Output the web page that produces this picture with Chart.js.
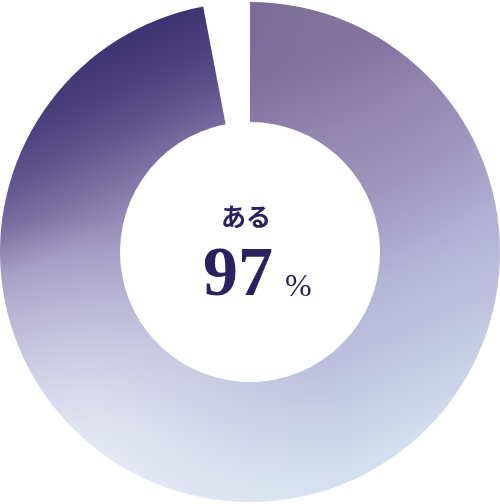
<!DOCTYPE html>
<html lang="ja">
<head>
<meta charset="utf-8">
<script src="https://cdn.jsdelivr.net/npm/chart.js@4"></script>
<style>
  html, body { margin: 0; padding: 0; background: #fff; }
  #wrap { width: 500px; height: 504px; }
</style>
</head>
<body>
<div id="wrap"><canvas id="donut" width="500" height="504"></canvas></div>
<script>
// data
const labels = ["ある", "ない"];
const values = [97, 3];
const unit = "%";

// gradient fill, painted once on an offscreen canvas and used as a pattern
function ringFill(ctx) {
  const c = document.createElement("canvas");
  c.width = 500; c.height = 504;
  const g = c.getContext("2d");

  const lin = g.createLinearGradient(90, 30, 300, 490);
  lin.addColorStop(0, "#3a2f6d");
  lin.addColorStop(0.12, "#4a3e7b");
  lin.addColorStop(0.22, "#64578f");
  lin.addColorStop(0.38, "#9a90bb");
  lin.addColorStop(0.6, "#aeabd1");
  lin.addColorStop(0.8, "#bcc0dd");
  lin.addColorStop(1, "#d3deee");
  g.fillStyle = lin;
  g.fillRect(0, 0, 500, 504);

  // greyish mauve on the upper right, only right of the gap
  g.save();
  g.beginPath();
  g.rect(240, 0, 260, 504);
  g.clip();
  const tr = g.createRadialGradient(310, 10, 0, 310, 10, 280);
  tr.addColorStop(0, "rgba(136,120,158,0.9)");
  tr.addColorStop(0.6, "rgba(145,130,168,0.45)");
  tr.addColorStop(1, "rgba(150,135,172,0)");
  g.fillStyle = tr;
  g.fillRect(0, 0, 500, 504);
  g.restore();

  // pale glow on the lower left
  const bl = g.createRadialGradient(70, 500, 0, 70, 500, 280);
  bl.addColorStop(0, "rgba(242,246,253,0.95)");
  bl.addColorStop(1, "rgba(242,246,253,0)");
  g.fillStyle = bl;
  g.fillRect(0, 0, 500, 504);

  return ctx.createPattern(c, "no-repeat");
}

const centerText = {
  id: "centerText",
  afterDraw(chart) {
    const { ctx } = chart;
    const meta = chart.getDatasetMeta(0).data[0];
    const x = meta.x, y = meta.y;
    ctx.save();
    ctx.fillStyle = "#2b2160";
    ctx.textAlign = "center";
    ctx.textBaseline = "alphabetic";
    ctx.font = "bold 25px 'Noto Sans CJK JP'";
    ctx.fillText(labels[0], x - 4, y - 26);
    ctx.font = "bold 70px 'Liberation Serif'";
    ctx.fillText(String(values[0]), x - 12, y + 43);
    ctx.font = "32px 'Liberation Serif'";
    ctx.textAlign = "left";
    ctx.fillText(unit, x + 35, y + 44);
    ctx.restore();
  }
};

const canvas = document.getElementById("donut");
new Chart(canvas, {
  type: "doughnut",
  data: {
    labels,
    datasets: [{
      data: values,
      backgroundColor: (c) => c.dataIndex === 0 ? ringFill(c.chart.ctx) : "rgba(0,0,0,0)",
      borderWidth: 0,
      hoverOffset: 0
    }]
  },
  options: {
    responsive: false,
    devicePixelRatio: 1,
    animation: false,
    cutout: "52%",
    layout: { padding: 0 },
    events: [],
    plugins: { legend: { display: false }, tooltip: { enabled: false } }
  },
  plugins: [centerText]
});
</script>
</body>
</html>
